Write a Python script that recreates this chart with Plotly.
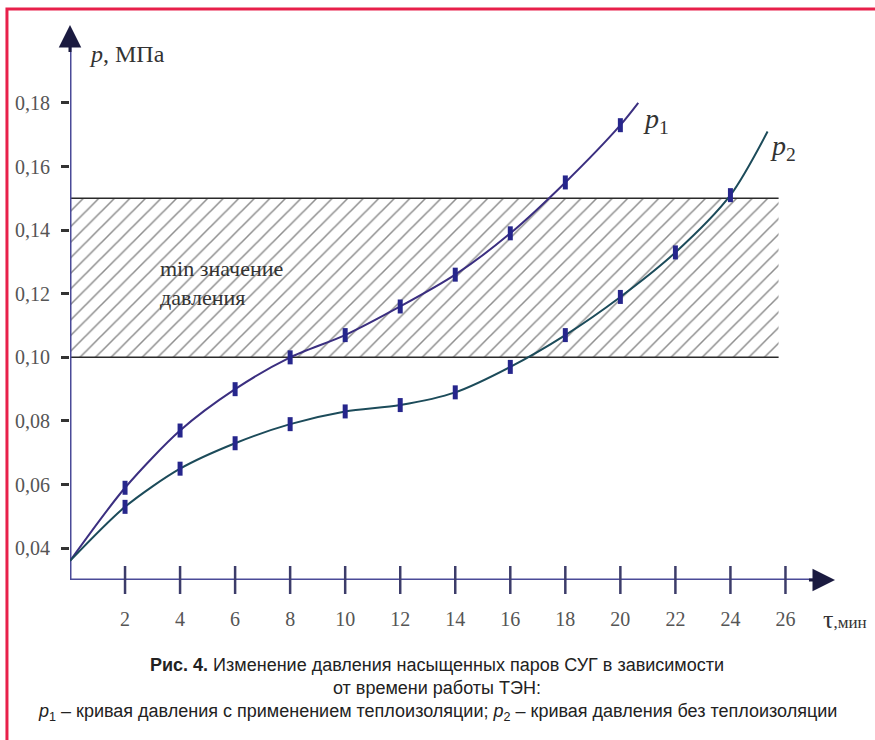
import plotly.graph_objects as go

# Measured vapour pressure, MPa, vs heater running time, min
tau = [2, 4, 6, 8, 10, 12, 14, 16, 18, 20, 22, 24]
p1 = [0.059, 0.077, 0.090, 0.100, 0.107, 0.116, 0.126, 0.139, 0.155, 0.173]
p2 = [0.053, 0.065, 0.073, 0.079, 0.083, 0.085, 0.089, 0.097, 0.107, 0.119, 0.133, 0.151]
p_start = 0.036                 # both curves start from the same pressure at t = 0
p1_end = (20.65, 0.180)         # end of the drawn p1 curve
p2_end = (25.35, 0.171)         # end of the drawn p2 curve

# Band of minimum required pressure
band_lo, band_hi, band_right = 0.10, 0.15, 25.75

x_ticks = [2, 4, 6, 8, 10, 12, 14, 16, 18, 20, 22, 24, 26]
y_ticks = [0.04, 0.06, 0.08, 0.10, 0.12, 0.14, 0.16, 0.18]
y_tick_text = ["0,04", "0,06", "0,08", "0,10", "0,12", "0,14", "0,16", "0,18"]

X_MAX, Y_MIN, Y_MAX = 27.8, 0.03, 0.2045
SERIF = "Liberation Serif, Times New Roman, serif"
NARROW = "Liberation Sans Narrow, Arial Narrow, Liberation Sans, sans-serif"
AXIS_C = "#4a4a98"
HEAD_C = "#1b1b40"
C1 = "#3b2f80"
C2 = "#1c4b5a"
MARK_C = "#26268c"

fig = go.Figure()

# hatched band
fig.add_trace(go.Scatter(
    x=[0, band_right, band_right, 0, 0],
    y=[band_lo, band_lo, band_hi, band_hi, band_lo],
    mode="lines", fill="toself", line=dict(width=0),
    fillcolor="white",
    fillpattern=dict(shape="/", size=11, solidity=0.14, fgcolor="#1e1e1e", bgcolor="white"),
    hoverinfo="skip", showlegend=False,
))
for yb in (band_lo, band_hi):
    fig.add_trace(go.Scatter(x=[0, band_right], y=[yb, yb], mode="lines",
                             line=dict(color="#2a2a2a", width=1.5),
                             hoverinfo="skip", showlegend=False))

# axis lines
fig.add_trace(go.Scatter(x=[0, X_MAX - 0.6], y=[Y_MIN, Y_MIN], mode="lines",
                         line=dict(color=AXIS_C, width=3), cliponaxis=False,
                         hoverinfo="skip", showlegend=False))
fig.add_trace(go.Scatter(x=[0, 0], y=[Y_MIN, Y_MAX - 0.006], mode="lines",
                         line=dict(color=AXIS_C, width=3), cliponaxis=False,
                         hoverinfo="skip", showlegend=False))

# curves
fig.add_trace(go.Scatter(
    x=[0] + tau[:len(p1)] + [p1_end[0]], y=[p_start] + p1 + [p1_end[1]],
    mode="lines", line=dict(color=C1, width=2, shape="spline", smoothing=0.8),
    showlegend=False, hoverinfo="skip"))
fig.add_trace(go.Scatter(
    x=[0] + tau[:len(p2)] + [p2_end[0]], y=[p_start] + p2 + [p2_end[1]],
    mode="lines", line=dict(color=C2, width=2, shape="spline", smoothing=0.8),
    showlegend=False, hoverinfo="skip"))

# measured points
for vals in (p1, p2):
    fig.add_trace(go.Scatter(
        x=tau[:len(vals)], y=vals, mode="markers",
        marker=dict(symbol="line-ns", size=10, line=dict(width=5, color=MARK_C)),
        showlegend=False, hoverinfo="skip"))

# x-axis tick crosses
fig.add_trace(go.Scatter(
    x=x_ticks, y=[Y_MIN] * len(x_ticks), mode="markers", cliponaxis=False,
    marker=dict(symbol="line-ns", size=20, line=dict(width=2.5, color="#3c3c6a")),
    showlegend=False, hoverinfo="skip"))

annotations = [
    # arrowheads at the axis ends
    dict(x=X_MAX, y=Y_MIN, ax=X_MAX - 1.0, ay=Y_MIN, xref="x", yref="y", axref="x", ayref="y",
         text="", showarrow=True, arrowhead=2, arrowsize=1.5, arrowwidth=3, arrowcolor=HEAD_C),
    dict(x=0, y=Y_MAX, ax=0, ay=Y_MAX - 0.009, xref="x", yref="y", axref="x", ayref="y",
         text="", showarrow=True, arrowhead=2, arrowsize=1.5, arrowwidth=3, arrowcolor=HEAD_C),
    # axis titles
    dict(x=0.6, y=0.1955, xref="x", yref="y", xanchor="left", yanchor="middle",
         text="<i>p</i>, МПа", showarrow=False, font=dict(family=SERIF, size=24, color="#333")),
    dict(x=27.3, y=-0.072, xref="x", yref="paper", xanchor="left", yanchor="middle",
         text="<span style='font-size:26px'>τ</span>,мин", showarrow=False,
         font=dict(family=SERIF, size=17, color="#333")),
    # curve labels
    dict(x=20.75, y=0.1745, xref="x", yref="y", xanchor="left", yanchor="middle",
         text="<i>p</i><sub>1</sub>", showarrow=False, font=dict(family=SERIF, size=28, color="#333")),
    dict(x=25.35, y=0.166, xref="x", yref="y", xanchor="left", yanchor="middle",
         text="<i>p</i><sub>2</sub>", showarrow=False, font=dict(family=SERIF, size=28, color="#333")),
    # band label
    dict(x=3.2, y=0.1233, xref="x", yref="y", xanchor="left", yanchor="middle",
         text="min значение<br>давления", showarrow=False, align="left",
         font=dict(family=SERIF, size=22, color="#333")),
    # caption
    dict(x=0.48, y=-0.153, xref="paper", yref="paper", xanchor="center", yanchor="middle",
         text="<b>Рис. 4.</b> Изменение давления насыщенных паров СУГ в зависимости",
         showarrow=False, font=dict(family=NARROW, size=18, color="#222")),
    dict(x=0.48, y=-0.195, xref="paper", yref="paper", xanchor="center", yanchor="middle",
         text="от времени работы ТЭН:",
         showarrow=False, font=dict(family=NARROW, size=18, color="#222")),
    dict(x=0.48, y=-0.238, xref="paper", yref="paper", xanchor="center", yanchor="middle",
         text="<i>p</i><sub>1</sub> – кривая давления с применением теплоизоляции; "
              "<i>p</i><sub>2</sub> – кривая давления без теплоизоляции",
         showarrow=False, font=dict(family=NARROW, size=18, color="#222")),
]

fig.update_layout(
    width=875, height=740,
    margin=dict(l=70, r=40, t=25, b=160),
    paper_bgcolor="white", plot_bgcolor="white",
    annotations=annotations,
    shapes=[dict(type="rect", xref="paper", yref="paper",
                 x0=-0.0824, x1=1.08, y0=-0.32, y1=1.0288,
                 line=dict(color="#e8204a", width=3), layer="below")],
    xaxis=dict(range=[0, X_MAX], tickvals=x_ticks, ticks="", showgrid=False,
               zeroline=False, showline=False, ticklabelstandoff=25,
               tickfont=dict(family=SERIF, size=20, color="#555")),
    yaxis=dict(range=[Y_MIN, Y_MAX], tickvals=y_ticks, ticktext=y_tick_text,
               ticks="outside", ticklen=8, tickwidth=2.5, tickcolor="#333",
               showgrid=False, zeroline=False, showline=False, ticklabelstandoff=7,
               tickfont=dict(family=SERIF, size=20, color="#555")),
)

fig.write_html("out.html")
